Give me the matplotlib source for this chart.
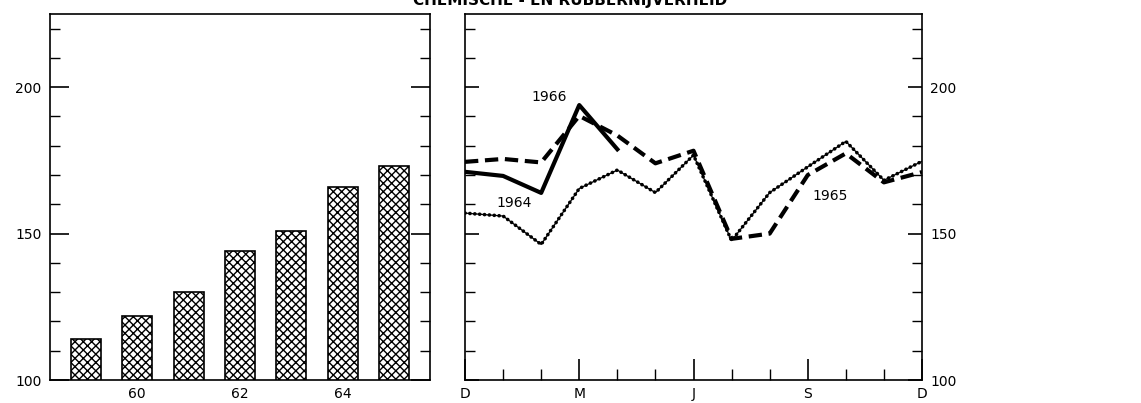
import matplotlib.pyplot as plt
import numpy as np

# jaarcijfers (index)
years = [59, 60, 61, 62, 63, 64, 65]
year_vals = [114, 122, 130, 144, 151, 166, 173]
year_ticks = [60, 62, 64]

# maandcijfers, D (vorig jaar) .. D
months = list(range(13))
month_ticks = [0, 3, 6, 9, 12]
month_labels = ['D', 'M', 'J', 'S', 'D']
v1964 = [157, 156, 146.3, 165.4, 171.7, 164, 176.8, 147.6, 164, 172.8, 181.5, 168.2, 174.7]
v1965 = [174.5, 175.5, 174.3, 190.2, 183.5, 174, 178.3, 148.2, 150, 170, 177.4, 167.5, 171]
v1966 = [171.1, 169.7, 163.9, 193.9, 178.8]

plt.rcParams['font.family'] = 'DejaVu Sans'
plt.rcParams['hatch.linewidth'] = 1.0

fig = plt.figure(figsize=(11.41, 4.03), dpi=100)
ax1 = fig.add_axes([50/1141, 23/403, 380/1141, 366/403])
ax2 = fig.add_axes([465/1141, 23/403, 457/1141, 366/403])

ax1.bar(years, year_vals, width=0.59, bottom=0, color='white', edgecolor='black',
        hatch='xxxx', linewidth=1.2)
ax1.set_xlim(58.3, 65.7)
ax1.set_ylim(100, 225)
ax1.set_xticks(year_ticks)
ax1.set_yticks([100, 150, 200])
ax1.set_yticks(np.arange(110, 225, 10), minor=True)
ax1.tick_params(axis='x', length=0, pad=5, labelsize=10)
ax1.tick_params(axis='y', which='major', direction='in', length=14, width=1.2,
                right=True, labelsize=10, pad=6)
ax1.tick_params(axis='y', which='minor', direction='in', length=7, width=1, right=True)

ax2.plot(months, v1964, color='black', lw=0.9)
ax2.plot(months, v1964, color='black', lw=2.6, linestyle=(0, (0.05, 1.3)),
         dash_capstyle='round')
ax2.plot(months, v1965, color='black', lw=3, linestyle=(0, (3.2, 1.6)))
ax2.plot(months[:len(v1966)], v1966, color='black', lw=3)
ax2.set_xlim(0, 12)
ax2.set_ylim(100, 225)
ax2.set_xticks(month_ticks)
ax2.set_xticklabels(month_labels)
ax2.set_xticks(months, minor=True)
ax2.set_yticks([100, 150, 200])
ax2.set_yticks(np.arange(110, 225, 10), minor=True)
ax2.tick_params(axis='x', which='major', direction='in', length=15, width=1.2,
                labelsize=10, pad=5)
ax2.tick_params(axis='x', which='minor', direction='in', length=8, width=1)
ax2.tick_params(axis='y', which='major', direction='in', length=10, width=1.2,
                left=True, right=True, labelleft=False, labelright=True,
                labelsize=10, pad=6)
ax2.tick_params(axis='y', which='minor', direction='in', length=7, width=1,
                left=True, right=True)

ax2.text(2.2, 196.5, '1966', fontsize=10, ha='center', va='center')
ax2.text(1.3, 160.3, '1964', fontsize=10, ha='center', va='center')
ax2.text(9.6, 163, '1965', fontsize=10, ha='center', va='center')

for ax in (ax1, ax2):
    for s in ax.spines.values():
        s.set_linewidth(1.2)

fig.text(570/1141, 1 - 5/403, 'CHEMISCHE - EN RUBBERNIJVERHEID', fontsize=11,
         fontweight='bold', ha='center', va='baseline')

fig.savefig('out.png', dpi=100)
